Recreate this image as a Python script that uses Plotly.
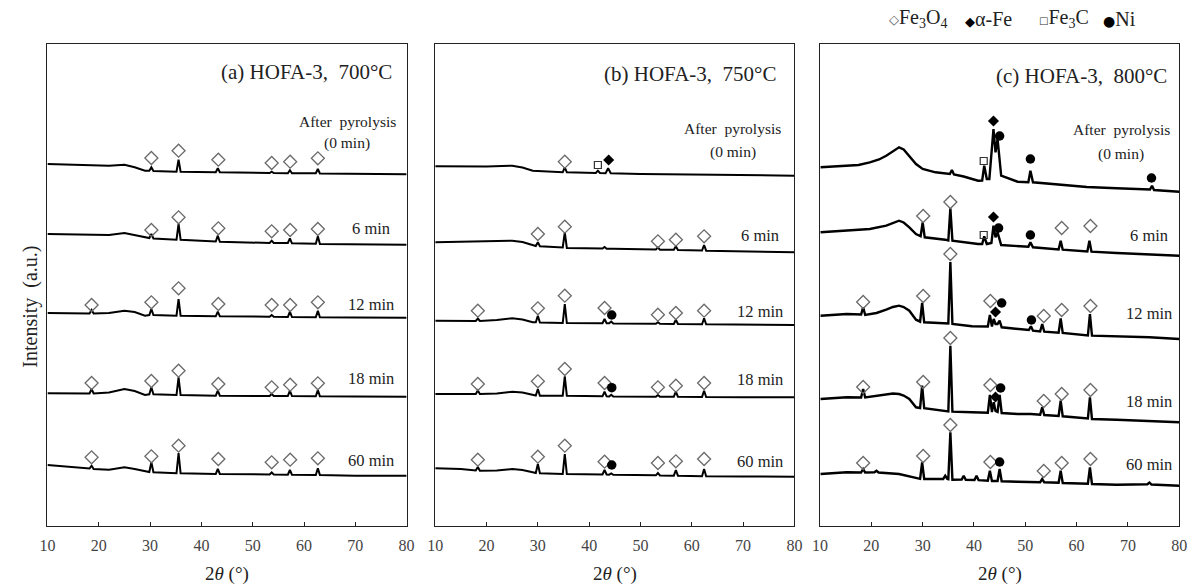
import plotly.graph_objects as go

# ---------------- Panel (a) HOFA-3, 700 C ----------------
A_X = [10, 15, 18.2, 18.6, 19.0, 22, 25, 27, 29, 29.85, 30.25, 30.65, 35.15, 35.55, 35.95,
       42.8, 43.2, 43.6, 53.3, 53.7, 54.1, 56.85, 57.25, 57.65, 62.3, 62.7, 63.1, 70, 80]
A_0 = [362, 361.3, 360.5, 360.5, 360.5, 360.3, 361.3, 358.7, 355.3, 355.3, 358.7, 355, 354.3, 366.3, 354.3,
       353.7, 357.7, 353.7, 353, 354.3, 353, 352.7, 355.7, 352.7, 352.7, 357, 352.5, 352.3, 351.7]
A_6 = [292, 291.5, 291, 291, 291, 291, 293, 291, 288.7, 288, 292, 287.5, 286.3, 302, 286.3,
       284.5, 290.3, 284.3, 283, 285.3, 283, 283, 287.7, 282.7, 282.3, 289.7, 282, 281.7, 281.3]
A_12 = [213, 213, 212.5, 216, 212.5, 213, 215.3, 214, 210.3, 211, 217, 211, 210.3, 227, 210.3,
        209.7, 214.3, 209.7, 209.3, 211, 209.3, 209, 214.3, 209, 208.7, 215.3, 208.7, 208.5, 208.3]
A_18 = [132.7, 132.7, 132.5, 137, 132.5, 133.5, 137, 135, 131, 131.7, 138.7, 131.7, 131, 148.7, 131,
        130.3, 135.3, 130.3, 130, 132, 130, 130, 135.3, 130, 129.7, 136, 129.7, 129.5, 129.3]
A_60 = [61, 58.7, 57.5, 60.3, 57, 56.3, 58.7, 57, 55.3, 54, 63.7, 53.7, 52.7, 73, 52.7,
        52, 57, 52, 51.5, 53.5, 51.5, 51.3, 56, 51.3, 51, 57.7, 51, 50.3, 50.3]
A_MX = [18.6, 30.25, 35.55, 43.3, 53.7, 57.3, 62.7]
A_M0 = [None, 368, 375.3, 366.3, 363, 364.3, 367.7]
A_M6 = [None, 296, 308.7, 297.7, 294.7, 296, 297]
A_M12 = [221, 223.7, 237.7, 222, 221, 221, 223.7]
A_M18 = [143, 145, 155.3, 142, 138.7, 141.3, 142.7]
A_M60 = [68.7, 69.7, 80.3, 67, 63.7, 66.3, 67.7]

# ---------------- Panel (b) HOFA-3, 750 C ----------------
B0_X = [10, 15, 20, 25, 27, 29, 32, 34.85, 35.25, 35.65, 41.3, 41.7, 42.1, 43.2, 43.7, 44.2, 50, 60, 70, 80]
B_0 = [359.7, 359.5, 359.5, 360.3, 358.5, 355.3, 354.5, 353.7, 358.7, 353.7, 353, 355.3, 353, 352.7, 357.7,
       352.7, 352, 351.5, 351, 350.3]
B_X = [10, 15, 17.9, 18.3, 18.7, 22, 25, 27, 29, 29.6, 30.0, 30.4, 34.85, 35.25, 35.65, 42.6, 43.0, 43.4,
       43.9, 44.3, 44.7, 53.0, 53.4, 53.8, 56.5, 56.9, 57.3, 62.0, 62.4, 62.8, 70, 80]
B_6 = [283.7, 284, 284.5, 284.5, 284.5, 284.5, 285.3, 284, 281, 280, 283.7, 279.7, 278.5, 293.7, 278, 277.5,
       279, 277.3, 277.3, 277.3, 277.2, 276.5, 278.5, 276.3, 276.2, 279.7, 276, 275.5, 281, 275.3, 274.5, 273.7]
B_12 = [205.3, 205.3, 205, 207.5, 205, 206, 207.7, 206.5, 203.7, 203.7, 210.3, 203.5, 203, 222, 203, 202.7,
        207, 202.7, 202.7, 204.5, 202.5, 202.2, 203.8, 202.2, 202, 206.3, 202, 201.7, 207.7, 201.7, 201.3, 201]
B_18 = [132, 132, 132, 135.5, 132, 132.5, 134.3, 133.5, 131, 130.5, 137, 130.3, 130.3, 149.7, 130.3, 129.7,
        134.3, 129.7, 129.6, 131.3, 129.5, 129.3, 131, 129.3, 129.3, 134.3, 129.3, 129, 135.3, 129, 128.8, 128.7]
B_60 = [57.7, 57, 55.5, 59, 55.3, 55.5, 57, 56, 53.7, 53, 62, 52.7, 52, 72, 52, 51.5,
        56, 51.5, 51.3, 52.5, 51.2, 50.7, 53, 50.5, 50.3, 56, 50.3, 49.8, 57, 49.7, 49.5, 49.3]
B_MX = [18.3, 30.0, 35.25, 43.0, 53.4, 56.9, 62.4]
B_M6 = [None, 292, 299.3, None, 284.7, 286.3, 289.7]
B_M12 = [215.3, 217.7, 230.3, 218, 211.3, 213, 215.3]
B_M18 = [142, 144.7, 157, 143, 138.7, 140.3, 143]
B_M60 = [66.3, 69.3, 80.3, 64.3, 63, 64.7, 67]
B_M0_FE3O4 = ([35.25], [364.3])
B_FE3C = ([41.7], [361])
B_AFE = ([43.8], [366])
B_NI = ([44.4, 44.4, 44.4], [211, 138.3, 61])

# ---------------- Panel (c) HOFA-3, 800 C ----------------
C0_X = [10.1, 15, 17.5, 19.7, 21.5, 22.9, 24.2, 25.4, 26.3, 27.4, 28.7, 30, 32.5, 35.3, 35.7, 36.1, 38, 40.8,
        41.6, 42.0, 42.5, 43.0, 43.8, 44.2, 44.6, 45.3, 48.5, 50.6, 51.0, 51.5, 55, 58.1, 62, 67.8, 74.3, 74.7,
        75.1, 80]
C_0 = [358.7, 360, 361, 363.7, 366.5, 370.3, 375, 378.7, 376.5, 370.3, 362, 357, 353.7, 352, 356, 351.5, 349.5,
       345.3, 345.5, 360.3, 347, 347, 397, 373.7, 387, 350.3, 344.3, 343.8, 355.3, 343.7, 342, 340.3, 339,
       337.7, 336.5, 340.3, 336, 334.3]
C6_X = [10.1, 15, 19.7, 22.9, 24.2, 25.4, 26.3, 27.4, 28.7, 29.6, 30.0, 30.4, 34.4, 35.0, 35.4, 35.8, 40.8,
        41.6, 42.0, 42.5, 43.4, 43.8, 44.2, 44.6, 45.3, 48.5, 50.6, 51.0, 51.5, 56.5, 56.9, 57.3, 62.1, 62.5,
        62.9, 67.8, 80]
C_6 = [293.7, 295.5, 297, 300.3, 303, 305.3, 303.5, 298.7, 292, 289.7, 303.7, 288.7, 286.3, 285.5, 317.7,
       285.3, 282, 282, 289.7, 282, 283, 300.3, 288.7, 293.7, 281, 279.7, 279.2, 283.7, 278.7, 276.5, 285.3,
       276.3, 274.5, 285.3, 274.3, 273, 270.3]
C12_X = [10.1, 15.2, 18.0, 18.4, 18.8, 21.0, 22.9, 24.2, 25.4, 26.3, 27.4, 28.7, 29.5, 29.9, 30.3, 34.4, 35.0,
         35.4, 35.8, 39.6, 42.7, 43.1, 43.5, 43.85, 44.2, 44.6, 45.0, 45.4, 48.5, 50.7, 51.1, 51.5, 52.9, 53.3,
         53.7, 56.5, 56.9, 57.3, 62.2, 62.6, 63.0, 67.8, 74.2, 80]
C_12 = [210.3, 212, 211.5, 218.7, 211, 213, 216.3, 219, 220.3, 219, 215.3, 206.3, 204.3, 223, 203.7, 203,
        202.5, 264, 202, 199.7, 199.5, 211, 199.5, 207, 202, 202, 205.3, 198.7, 197, 196, 199.7, 195.3, 194.5,
        202, 194.3, 193.2, 207.7, 193, 190.5, 212, 190.3, 189.7, 188.7, 187]
C18_X = [10.1, 15.2, 18.0, 18.4, 18.8, 22.9, 24.2, 25.4, 26.3, 27.4, 28.7, 29.5, 29.9, 30.3, 34.4, 35.0, 35.4,
         35.8, 39.6, 42.7, 43.1, 43.5, 43.85, 44.2, 44.6, 45.0, 45.4, 48.5, 51.1, 52.9, 53.3, 53.7, 56.5, 56.9,
         57.3, 62.2, 62.6, 63.0, 67.8, 74.2, 80]
C_18 = [127, 128.7, 128.5, 137, 128.5, 131, 132.5, 132, 130.5, 127, 118.7, 118, 140.3, 117.7, 115.3, 114.5,
        180.3, 114.3, 113.7, 113.3, 131, 114, 123.7, 115, 114, 131, 113, 112, 112, 111.2, 118.7, 111, 110,
        125.3, 109.7, 107.5, 128.7, 107, 106.3, 105.3, 103.7]
C60_X = [10.1, 15.2, 18.0, 18.4, 18.8, 20.6, 21.0, 21.4, 25.4, 28.7, 29.5, 29.9, 30.3, 34.0, 34.4, 34.8, 35.0,
         35.4, 35.8, 37.6, 38.0, 38.4, 40.1, 40.5, 40.9, 42.7, 43.1, 43.5, 44.6, 45.0, 45.4, 48.5, 52.9, 53.3,
         53.7, 56.5, 56.9, 57.3, 62.2, 62.6, 63.0, 67.8, 73.8, 74.2, 74.6, 80]
C_60 = [52, 53.7, 53.5, 57, 53.5, 53.7, 55.3, 53.5, 52, 48.7, 47.2, 63.7, 47, 47, 50.3, 47, 46.8, 93.7, 46.3,
        46.5, 50.3, 46.3, 46, 50.3, 45.8, 45.2, 55.3, 45, 45, 57, 44.7, 44.3, 43.8, 47, 43.7, 43.2, 55.3, 43,
        42.3, 58.7, 42, 41.3, 41.8, 43.5, 41.5, 40.3]
C_MX = [18.4, 30.1, 35.4, 43.2, 53.6, 57.1, 62.7]
C_M6 = [None, 310, 324, None, None, 298, 300]
C_M12 = [224, 230, 272, 225, 210, 216, 220]
C_M18 = [139, 144, 188, 141, 125, 132, 136]
C_M60 = [63, 70, 101, 64, 55, 63, 67]
C_AFE = ([43.8, 43.8, 44.2, 44.2], [405, 309, 214, 129])
C_NI = ([45.0, 51.0, 74.6, 44.8, 51.0, 45.4, 51.2, 45.2, 45.0], [390, 367, 348, 298, 291, 223, 206, 138, 64])
C_FE3C = ([41.9, 41.9], [365, 291])

TIME_LABELS = ["6 min", "12 min", "18 min", "60 min"]
TITLES = ["(a) HOFA-3,\u00a0 700\u00b0C", "(b) HOFA-3,\u00a0 750\u00b0C", "(c) HOFA-3,\u00a0 800\u00b0C"]
LEGEND_NAMES = ["Fe<sub>3</sub>O<sub>4</sub>", "α-Fe", "Fe<sub>3</sub>C", "Ni"]
LEGEND_SYMBOLS = ["\u25c7", "\u25c6", "\u25a1", "\u25cf"]

# label positions (data coordinates) per panel
LABEL_Y = {1: [297, 222, 148, 66], 2: [290.3, 214.3, 146.3, 64.7], 3: [290, 213, 125, 62]}
LABEL_X = {1: 73.0, 2: 73.3, 3: 74.2}
AP_POS = {1: (68.4, 404, 383), 2: (68.0, 397, 374.3), 3: (68.7, 396, 372)}
TITLE_POS = {1: (77.6, 454), 2: (77.0, 452), 3: (78.1, 450)}

SERIF = "Liberation Serif, Times New Roman, serif"

fig = go.Figure()

def add_curve(x, y, ax, width=2):
    fig.add_trace(go.Scatter(x=x, y=y, mode="lines", line=dict(color="black", width=width),
                             xaxis="x" + ax, yaxis="y" + ax, showlegend=False, hoverinfo="skip"))

def flatten(mx, rows):
    xs, ys = [], []
    for r in rows:
        for xv, yv in zip(mx, r):
            if yv is not None:
                xs.append(xv)
                ys.append(yv)
    return xs, ys

def add_markers(x, y, ax, kind):
    styles = {
        "fe3o4": dict(symbol="diamond-open", size=10, color="#6a6a6a", line=dict(width=1.3, color="#6a6a6a")),
        "afe": dict(symbol="diamond", size=8.5, color="black"),
        "ni": dict(symbol="circle", size=9.5, color="black"),
        "fe3c": dict(symbol="square-open", size=7, color="#333333", line=dict(width=1.2, color="#333333")),
    }
    fig.add_trace(go.Scatter(x=x, y=y, mode="markers", marker=styles[kind], xaxis="x" + ax, yaxis="y" + ax,
                             showlegend=False, hoverinfo="skip", cliponaxis=False))

# panel a
for yy in [A_0, A_6, A_12, A_18, A_60]:
    add_curve(A_X, yy, "")
ax_, ay_ = flatten(A_MX, [A_M0, A_M6, A_M12, A_M18, A_M60])
add_markers(ax_, ay_, "", "fe3o4")

# panel b
add_curve(B0_X, B_0, "2")
for yy in [B_6, B_12, B_18, B_60]:
    add_curve(B_X, yy, "2")
bx_, by_ = flatten(B_MX, [B_M6, B_M12, B_M18, B_M60])
add_markers(bx_ + B_M0_FE3O4[0], by_ + B_M0_FE3O4[1], "2", "fe3o4")
add_markers(*B_FE3C, "2", "fe3c")
add_markers(*B_AFE, "2", "afe")
add_markers(*B_NI, "2", "ni")

# panel c
for xx, yy in [(C0_X, C_0), (C6_X, C_6), (C12_X, C_12), (C18_X, C_18), (C60_X, C_60)]:
    add_curve(xx, yy, "3", width=2.4)
cx_, cy_ = flatten(C_MX, [C_M6, C_M12, C_M18, C_M60])
add_markers(cx_, cy_, "3", "fe3o4")
add_markers(*C_FE3C, "3", "fe3c")
add_markers(*C_AFE, "3", "afe")
add_markers(*C_NI, "3", "ni")

W, H = 1202, 584
X_DOMAINS = [(40, 404), (433, 797), (823, 1187)]
Y_DOMAIN = [(H - 526) / H, (H - 44) / H]

layout = dict(width=W, height=H, margin=dict(l=0, r=0, t=0, b=0), paper_bgcolor="white",
              plot_bgcolor="white", showlegend=False)
for i, (l, r) in enumerate(X_DOMAINS, start=1):
    sfx = "" if i == 1 else str(i)
    layout["xaxis" + sfx] = dict(domain=[l / W, r / W], range=[10, 80], tickvals=[10, 20, 30, 40, 50, 60, 70, 80],
                                 ticks="inside", ticklen=4, tickcolor="#222", showline=True, mirror=True,
                                 linecolor="#222", linewidth=1, showgrid=False, zeroline=False,
                                 tickfont=dict(family=SERIF, size=16, color="#444"), ticklabelstandoff=5,
                                 anchor="y" + sfx, fixedrange=True)
    layout["yaxis" + sfx] = dict(domain=Y_DOMAIN, range=[0, 482], showticklabels=False, ticks="",
                                 showline=True, mirror=True, linecolor="#222", linewidth=1, showgrid=False,
                                 zeroline=False, anchor="x" + sfx, fixedrange=True)
fig.update_layout(**layout)

ann = []
for i in (1, 2, 3):
    sfx = "" if i == 1 else str(i)
    xr, yr = "x" + sfx, "y" + sfx
    tx, ty = TITLE_POS[i]
    ann.append(dict(x=tx, y=ty, xref=xr, yref=yr, text=TITLES[i - 1], showarrow=False, xanchor="right",
                    yanchor="middle", font=dict(family=SERIF, size=21, color="#222")))
    apx, apy1, apy2 = AP_POS[i]
    ann.append(dict(x=apx, y=apy1, xref=xr, yref=yr, text="After\u00a0 pyrolysis", showarrow=False,
                    xanchor="center", yanchor="middle", font=dict(family=SERIF, size=15.5, color="#222")))
    ann.append(dict(x=apx, y=apy2, xref=xr, yref=yr, text="(0 min)", showarrow=False,
                    xanchor="center", yanchor="middle", font=dict(family=SERIF, size=15.5, color="#222")))
    for lab, ly in zip(TIME_LABELS, LABEL_Y[i]):
        ann.append(dict(x=LABEL_X[i], y=ly, xref=xr, yref=yr, text=lab, showarrow=False, xanchor="center",
                        yanchor="middle", font=dict(family=SERIF, size=16.5, color="#222")))
    cx = (X_DOMAINS[i - 1][0] + X_DOMAINS[i - 1][1]) / 2 / W
    ann.append(dict(x=cx, y=1 - 574 / H, xref="paper", yref="paper", text="2<i>θ</i> (°)", showarrow=False,
                    xanchor="center", yanchor="middle", font=dict(family=SERIF, size=19, color="#222")))

ann.append(dict(x=22 / W, y=1 - 307 / H, xref="paper", yref="paper", text="Intensity\u00a0 (a.u.)",
                textangle=-90, showarrow=False, xanchor="center", yanchor="middle",
                font=dict(family=SERIF, size=20, color="#222")))

# legend (symbol + name), placed as text
LEG_LEFT = [891, 968, 1043, 1108]
LEG_SYM_STYLE = [(13, "#555"), (13, "#000"), (10, "#333"), (14, "#000")]
for left, s, name, (fs, col) in zip(LEG_LEFT, LEGEND_SYMBOLS, LEGEND_NAMES, LEG_SYM_STYLE):
    txt = "<span style='font-family:DejaVu Sans;font-size:{}px;color:{}'>{}</span>{}".format(fs, col, s, name)
    ann.append(dict(x=left / W, y=1 - 19 / H, xref="paper", yref="paper", text=txt, showarrow=False,
                    xanchor="left", yanchor="middle", font=dict(family=SERIF, size=20, color="#222")))

fig.update_layout(annotations=ann)
fig.write_html("out.html", config={"displayModeBar": False},
               post_script="document.body.style.margin='0';document.body.style.overflow='hidden';")
